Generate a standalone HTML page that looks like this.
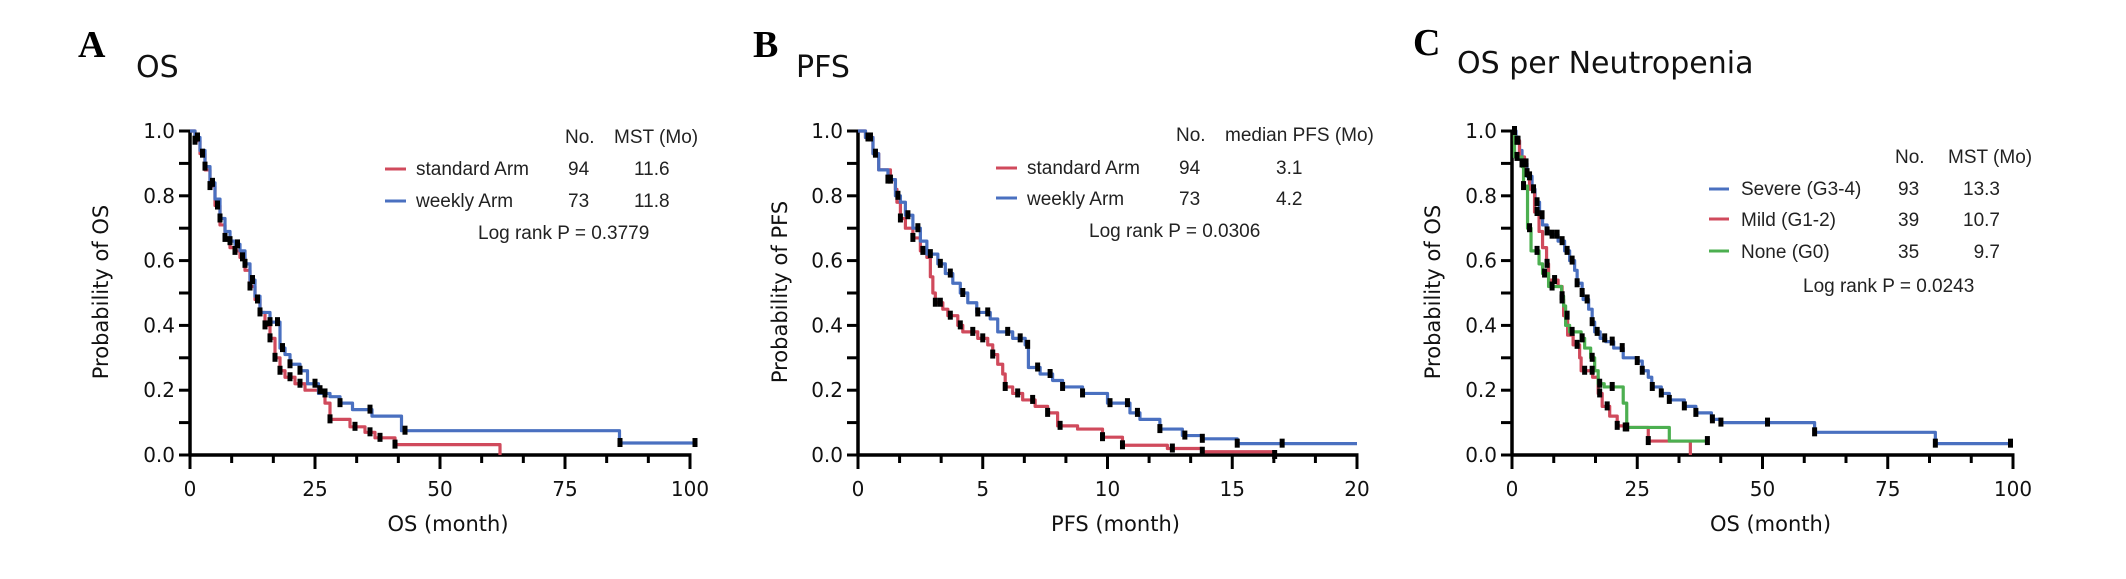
<!DOCTYPE html>
<html><head><meta charset="utf-8">
<style>
html,body{margin:0;padding:0;background:#fff;}
svg{display:block;}
.tk{font-family:"DejaVu Sans","Liberation Sans",sans-serif;font-size:20px;fill:#111;}
.at{font-family:"DejaVu Sans","Liberation Sans",sans-serif;font-size:21px;fill:#111;}
.lg{font-family:"Liberation Sans",sans-serif;font-size:19px;fill:#222;}
.pl{font-family:"Liberation Serif",serif;font-size:38px;font-weight:bold;fill:#000;}
.pt{font-family:"DejaVu Sans","Liberation Sans",sans-serif;font-size:30px;fill:#111;}
</style></head>
<body>
<svg id="fig" width="2126" height="579" viewBox="0 0 2126 579" xmlns="http://www.w3.org/2000/svg">
<text class="pl" x="78" y="57">A</text>
<text class="pt" x="136" y="77">OS</text>
<text class="pl" x="753" y="57">B</text>
<text class="pt" x="796" y="77">PFS</text>
<text class="pl" x="1413" y="55">C</text>
<text class="pt" x="1457" y="73">OS per Neutropenia</text>

<g>
<text class="lg" x="565" y="143">No.</text><text class="lg" x="614" y="143">MST (Mo)</text>
<line x1="385" y1="169" x2="406" y2="169" stroke="#d04a5c" stroke-width="3"/>
<text class="lg" x="416" y="175">standard Arm</text><text class="lg" x="568" y="175">94</text><text class="lg" x="634" y="175">11.6</text>
<line x1="385" y1="201" x2="406" y2="201" stroke="#4a70c0" stroke-width="3"/>
<text class="lg" x="416" y="207">weekly Arm</text><text class="lg" x="568" y="207">73</text><text class="lg" x="634" y="207">11.8</text>
<text class="lg" x="478" y="239">Log rank P = 0.3779</text>
</g>
<g>
<text class="lg" x="1176" y="141">No.</text><text class="lg" x="1225" y="141">median PFS (Mo)</text>
<line x1="996" y1="168" x2="1017" y2="168" stroke="#d04a5c" stroke-width="3"/>
<text class="lg" x="1027" y="174">standard Arm</text><text class="lg" x="1179" y="174">94</text><text class="lg" x="1276" y="174">3.1</text>
<line x1="996" y1="198" x2="1017" y2="198" stroke="#4a70c0" stroke-width="3"/>
<text class="lg" x="1027" y="205">weekly Arm</text><text class="lg" x="1179" y="205">73</text><text class="lg" x="1276" y="205">4.2</text>
<text class="lg" x="1089" y="237">Log rank P = 0.0306</text>
</g>
<g>
<text class="lg" x="1895" y="163">No.</text><text class="lg" x="1948" y="163">MST (Mo)</text>
<line x1="1709" y1="189" x2="1729" y2="189" stroke="#4a70c0" stroke-width="3"/>
<text class="lg" x="1741" y="195">Severe (G3-4)</text><text class="lg" x="1898" y="195">93</text><text class="lg" x="2000" y="195" text-anchor="end">13.3</text>
<line x1="1709" y1="219" x2="1729" y2="219" stroke="#d04a5c" stroke-width="3"/>
<text class="lg" x="1741" y="226">Mild (G1-2)</text><text class="lg" x="1898" y="226">39</text><text class="lg" x="2000" y="226" text-anchor="end">10.7</text>
<line x1="1709" y1="251" x2="1729" y2="251" stroke="#4caf50" stroke-width="3"/>
<text class="lg" x="1741" y="258">None (G0)</text><text class="lg" x="1898" y="258">35</text><text class="lg" x="2000" y="258" text-anchor="end">9.7</text>
<text class="lg" x="1803" y="292">Log rank P = 0.0243</text>
</g>
</svg>
<script>
// Panel A data (OS)
const aRedT = [0,1,2,3,4,5,6,7,8,9,10,11,12,13,14,15,16,17,18,19,21,23,27,28,32,35,37,41,62];
const aRedS = [1,0.97,0.93,0.88,0.83,0.77,0.71,0.67,0.64,0.63,0.61,0.57,0.52,0.48,0.44,0.40,0.36,0.30,0.26,0.24,0.22,0.20,0.16,0.11,0.087,0.07,0.053,0.032,0];
const aRedEnd = 62;
const aBlueT = [0,1,2,3,4,5,6,7,8,9,10,11,12,13,14,16,18,19,20,22,23.5,25.7,28,30,32.5,36.4,42.3,85.9];
const aBlueS = [1,0.98,0.94,0.89,0.84,0.79,0.73,0.69,0.66,0.65,0.63,0.59,0.54,0.49,0.44,0.41,0.33,0.31,0.28,0.26,0.22,0.19,0.18,0.16,0.14,0.12,0.075,0.037];
const aBlueEnd = 101;
const aRedCens = [1,2.5,4,5.5,7,9,10.5,12,13.5,15,16,17,18,20,22,26,28,33,36,38,41];
const aBlueCens = [1.5,3,4.5,6,8,9.5,11,12.5,14,16,17.5,18.5,20,22,25,27,30,36,43,86,101];
// Panel B data (PFS)
const bRedT = [0,0.3,0.6,0.83,1.3,1.5,1.56,1.7,1.9,2.2,2.5,2.76,2.9,3.0,3.1,3.4,3.6,4.0,4.2,4.8,5.2,5.4,5.6,5.8,5.9,6.2,6.6,7.1,7.6,8.0,8.8,9.8,10.6,12.4,13.8,16.7];
const bRedS = [1,0.98,0.93,0.88,0.85,0.82,0.78,0.73,0.70,0.67,0.63,0.61,0.55,0.50,0.47,0.45,0.43,0.40,0.38,0.36,0.34,0.31,0.28,0.25,0.21,0.19,0.17,0.15,0.13,0.09,0.08,0.055,0.03,0.02,0.01,0];
const bRedEnd = 16.7;
const bBlueT = [0,0.3,0.6,0.83,1.2,1.5,1.7,1.9,2.2,2.5,2.76,3.2,3.5,3.8,4.1,4.4,4.76,5.3,5.6,6.2,6.7,6.83,7.3,7.8,8.2,9.0,10.0,10.9,11.3,12.1,13.0,13.8,15.2];
const bBlueS = [1,0.98,0.93,0.88,0.85,0.80,0.78,0.74,0.70,0.66,0.62,0.59,0.56,0.53,0.50,0.47,0.44,0.42,0.38,0.36,0.34,0.27,0.25,0.23,0.21,0.19,0.16,0.13,0.11,0.08,0.06,0.05,0.035];
const bBlueEnd = 20;
const bRedCens = [0.4,0.7,1.3,1.7,2.2,2.6,3.1,3.3,3.7,4.1,4.6,5.0,5.4,5.9,6.4,7.0,7.6,8.1,9.8,10.6,12.6,13.8,16.7];
const bBlueCens = [0.5,1.2,1.6,2.0,2.4,2.9,3.3,3.7,4.2,4.8,5.2,6.0,6.5,6.8,7.2,7.7,8.2,9.0,10.1,10.8,11.2,12.1,13.1,13.8,15.2,17.0];
// Panel C data (OS per neutropenia)
const cBlueT = [0,0.8,1.5,2,3,4,4.6,5.5,6.1,7,7.7,9.2,10.5,11.5,12.5,13,14,14.2,15.3,16,16.5,17.6,18.7,20.3,22.2,24.9,26,27.2,27.9,29.8,31.4,34.4,36.7,39.8,41.7,60.4,84.5];
const cBlueS = [1,0.97,0.94,0.90,0.86,0.82,0.78,0.74,0.71,0.69,0.68,0.66,0.63,0.60,0.57,0.53,0.50,0.48,0.45,0.41,0.38,0.36,0.35,0.33,0.30,0.29,0.26,0.24,0.21,0.19,0.17,0.15,0.13,0.11,0.10,0.07,0.035];
const cBlueEnd = 99.5;
const cRedT = [0,0.5,1.5,2.5,3.5,4.5,5.4,6.1,6.9,7.3,9.2,10,10.3,11.1,12.2,13.5,13.8,16.1,17.2,18,19.5,21,22.6,27.2,35.6];
const cRedS = [1,0.97,0.92,0.87,0.82,0.75,0.69,0.64,0.59,0.54,0.52,0.48,0.43,0.37,0.34,0.30,0.26,0.24,0.19,0.15,0.12,0.09,0.085,0.043,0];
const cRedEnd = 35.6;
const cGreenT = [0,0.5,2,2.3,3.1,3.8,5.4,6.1,7.3,9.9,10.3,10.7,11.5,13.8,14.5,15.7,16.5,17.2,18.4,22.2,22.9,31.4];
const cGreenS = [1,0.92,0.89,0.83,0.70,0.63,0.59,0.56,0.52,0.49,0.46,0.40,0.38,0.36,0.33,0.30,0.26,0.22,0.21,0.16,0.085,0.043];
const cGreenEnd = 39;
const cBlueCens = [0.5,1.2,2,2.8,3.5,4.3,5,6,7,8,9,10,11,12,13,14,15,16,17,18.5,20,22,25,26,28,29.8,31.4,34.4,36.7,40,41.7,51,60.4,84.5,99.5];
const cRedCens = [1,3,5,7,8.5,10,11,13,14.5,16,17.5,19,21,22.6,27.2];
const cGreenCens = [1,2.3,3.5,5,6.5,8,10,12,14,16,17.5,20,22.9,39];
const yTickLabels = ["0.0","0.2","0.4","0.6","0.8","1.0"];
const xTickLabelsOS = ["0","25","50","75","100"];
const xTickLabelsPFS = ["0","5","10","15","20"];

const NS = "http://www.w3.org/2000/svg";
const svg = document.getElementById('fig');
const Y0 = 455, Y1 = 131;
const COL = {red:"#d04a5c", blue:"#4a70c0", green:"#4caf50"};
function mk(tag, attrs, parent){const e=document.createElementNS(NS,tag);for(const k in attrs)e.setAttribute(k,attrs[k]);(parent||svg).appendChild(e);return e;}
function yScale(p){return Y0-(Y0-Y1)*p;}

function axes(x0,x1,xmax,xLabels,minorPer,ytitle,xtitle,ytx,name){
  const g=mk('g',{});
  
  
  const xs=v=>x0+(x1-x0)*v/xmax;
  mk('line',{x1:x0,y1:Y1-1,x2:x0,y2:Y0+1.5,stroke:'#000','stroke-width':3.5},g);
  mk('line',{x1:x0-1.5,y1:Y0,x2:x1+1.5,y2:Y0,stroke:'#000','stroke-width':3.5},g);
  for(let i=0;i<=10;i++){const y=yScale(i/10);mk('line',{x1:x0-11,y1:y,x2:x0,y2:y,stroke:'#000','stroke-width':3},g);}
  yTickLabels.forEach((l,i)=>{const t=mk('text',{x:x0-15,y:yScale(i*0.2)+7,'text-anchor':'end',class:'tk'},g);t.textContent=l;
    
    });
  const n=xLabels.length-1;
  for(let i=0;i<=n*minorPer;i++){const v=xmax*i/(n*minorPer);const x=xs(v);const major=i%minorPer===0;
    mk('line',{x1:x,y1:Y0,x2:x,y2:Y0+(major?14:8),stroke:'#000','stroke-width':3},g);}
  xLabels.forEach((l,i)=>{const t=mk('text',{x:xs(xmax*i/n),y:496,'text-anchor':'middle',class:'tk'},g);t.textContent=l;
    
    });
  const yt=mk('text',{x:0,y:0,'text-anchor':'middle',class:'at',transform:`translate(${ytx},292) rotate(-90)`},g);yt.textContent=ytitle;
  
  
  const xt=mk('text',{x:(x0+x1)/2+8,y:531,'text-anchor':'middle',class:'at'},g);xt.textContent=xtitle;
  
  
  return xs;
}
function stepAt(T,S,t){let s=S[0];for(let i=0;i<T.length;i++){if(T[i]<=t)s=S[i];}return s;}
function curve(xs,T,S,end,color,name){
  let d=`M${xs(T[0])},${yScale(S[0])}`;
  for(let i=1;i<T.length;i++){d+=` H${xs(T[i])} V${yScale(S[i])}`;}
  d+=` H${xs(end)}`;
  const p=mk('path',{d:d,fill:'none',stroke:color,'stroke-width':3.2,'stroke-linejoin':'round'});
  
  
}
function cens(xs,T,S,C,name){
  C.forEach(t=>{const y=yScale(stepAt(T,S,t));
    const r=mk('rect',{x:xs(t)-2.5,y:y-5,width:5,height:9,fill:'#000'});
    
    });
}
// Panel A
const xa=axes(190,690,100,xTickLabelsOS,3,"Probability of OS","OS (month)",108,'panel-a');
curve(xa,aRedT,aRedS,aRedEnd,COL.red,'standard-arm-curve-a');
curve(xa,aBlueT,aBlueS,aBlueEnd,COL.blue,'weekly-arm-curve-a');
cens(xa,aRedT,aRedS,aRedCens,'censor-mark');
cens(xa,aBlueT,aBlueS,aBlueCens,'censor-mark');
// Panel B
const xb=axes(858,1357,20,xTickLabelsPFS,3,"Probability of PFS","PFS (month)",787,'panel-b');
curve(xb,bRedT,bRedS,bRedEnd,COL.red,'standard-arm-curve-b');
curve(xb,bBlueT,bBlueS,bBlueEnd,COL.blue,'weekly-arm-curve-b');
cens(xb,bRedT,bRedS,bRedCens,'censor-mark');
cens(xb,bBlueT,bBlueS,bBlueCens,'censor-mark');
// Panel C
const xc=axes(1512,2013,100,xTickLabelsOS,3,"Probability of OS","OS (month)",1440,'panel-c');
curve(xc,cBlueT,cBlueS,cBlueEnd,COL.blue,'severe-curve');
curve(xc,cRedT,cRedS,cRedEnd,COL.red,'mild-curve');
curve(xc,cGreenT,cGreenS,cGreenEnd,COL.green,'none-curve');
cens(xc,cBlueT,cBlueS,cBlueCens,'censor-mark');
cens(xc,cRedT,cRedS,cRedCens,'censor-mark');
cens(xc,cGreenT,cGreenS,cGreenCens,'censor-mark');
</script>
</body></html>
